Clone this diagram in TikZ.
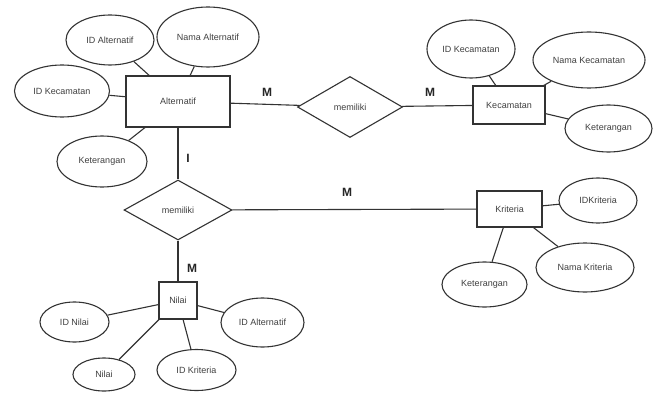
\documentclass[tikz,border=0pt]{standalone}
\usepackage{fontspec}
\setmainfont{Liberation Sans}
\usetikzlibrary{shapes.geometric}
\begin{document}
\begin{tikzpicture}[x=1pt,y=-1pt,
  ln/.style={draw=black!80,line width=1.1pt},
  ent/.style={ln,rectangle,inner sep=0pt,font=\fontsize{9}{10}\selectfont,text=black!75},
  att/.style={ln,ellipse,inner sep=0pt,font=\fontsize{9}{10}\selectfont,text=black!75},
  rel/.style={ln,diamond,inner sep=0pt,font=\fontsize{9}{10}\selectfont,text=black!75},
  card/.style={inner sep=0pt,font=\bfseries\fontsize{12}{12}\selectfont,text=black!85}]
\useasboundingbox (0,0) rectangle (660,393);
\fill[white] (0,0) rectangle (660,393);
% entities
\node[ent,minimum width=104pt,minimum height=51pt] (alt) at (178,101.5) {Alternatif};
\node[ent,minimum width=72pt,minimum height=38pt] (kec) at (509,105) {Kecamatan};
\node[ent,minimum width=65pt,minimum height=36pt] (krit) at (509.5,209) {Kriteria};
\node[ent,minimum width=38pt,minimum height=37pt] (nilai) at (178,300.5) {Nilai};
% relations
\node[rel,minimum width=105pt,minimum height=61pt] (rel1) at (350,107) {memiliki};
\node[rel,minimum width=108pt,minimum height=60pt] (rel2) at (178,210) {memiliki};
% attributes of Alternatif
\node[att,minimum width=88pt,minimum height=50pt] (idalt) at (110,40) {ID Alternatif};
\node[att,minimum width=102pt,minimum height=60pt] (namaalt) at (208,37) {Nama Alternatif};
\node[att,minimum width=95pt,minimum height=52pt] (idkec) at (62,91) {ID Kecamatan};
\node[att,minimum width=90pt,minimum height=51pt] (ketalt) at (102,161.5) {Keterangan};
% attributes of Kecamatan
\node[att,minimum width=88pt,minimum height=58pt] (idkec2) at (471,49) {ID Kecamatan};
\node[att,minimum width=112pt,minimum height=56pt] (namakec) at (589,60) {Nama Kecamatan};
\node[att,minimum width=87pt,minimum height=47pt] (ketkec) at (608.5,128.5) {Keterangan};
% attributes of Kriteria
\node[att,minimum width=78pt,minimum height=45pt] (idkrit) at (598,200.5) {IDKriteria};
\node[att,minimum width=98pt,minimum height=49pt] (namakrit) at (585,267.5) {Nama Kriteria};
\node[att,minimum width=85pt,minimum height=45pt] (ketkrit) at (484.5,284.5) {Keterangan};
% attributes of Nilai
\node[att,minimum width=69pt,minimum height=40pt] (idnilai) at (74.5,322) {ID Nilai};
\node[att,minimum width=83pt,minimum height=49pt] (idalt2) at (262.5,322.5) {ID Alternatif};
\node[att,minimum width=62pt,minimum height=33pt] (nilaiat) at (104,374.5) {Nilai};
\node[att,minimum width=79pt,minimum height=41pt] (idkrit2) at (196.5,370) {ID Kriteria};
% connectors
\draw[ln] (alt) -- (rel1);
\draw[ln] (rel1) -- (kec);
\draw[ln] (alt) -- (rel2);
\draw[ln] (rel2) -- (krit);
\draw[ln] (rel2) -- (nilai);
\draw[ln] (idalt) -- (alt);
\draw[ln] (namaalt) -- (alt);
\draw[ln] (idkec) -- (alt);
\draw[ln] (ketalt) -- (alt);
\draw[ln] (idkec2) -- (kec);
\draw[ln] (namakec) -- (kec);
\draw[ln] (ketkec) -- (kec);
\draw[ln] (idkrit) -- (krit);
\draw[ln] (namakrit) -- (krit);
\draw[ln] (ketkrit) -- (krit);
\draw[ln] (idnilai) -- (nilai);
\draw[ln] (idalt2) -- (nilai);
\draw[ln] (nilaiat) -- (nilai);
\draw[ln] (idkrit2) -- (nilai);
% cardinalities
\node[card] (c1) at (267,92) {M};
\node[card] (c2) at (430,92) {M};
\node[card] (c3) at (188,158) {I};
\node[card] (c4) at (347,192) {M};
\node[card] (c5) at (192,268) {M};
\end{tikzpicture}
\end{document}
